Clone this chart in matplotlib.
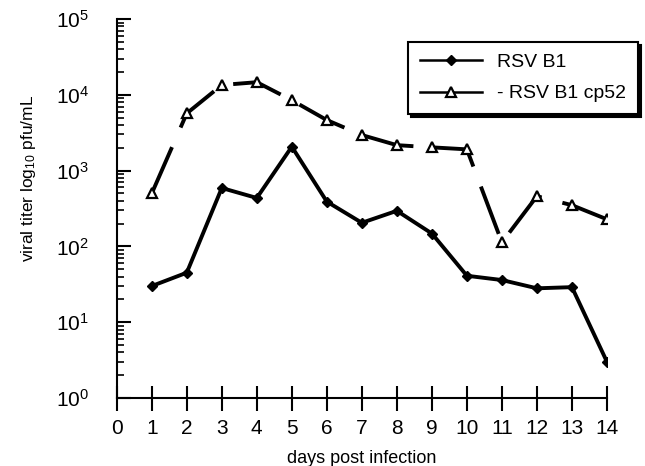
import matplotlib
matplotlib.use("Agg")
import matplotlib.pyplot as plt
from matplotlib.ticker import LogLocator, NullFormatter, FixedLocator

plt.rcParams['font.family'] = ['Liberation Sans', 'DejaVu Sans']
plt.rcParams['mathtext.default'] = 'regular'

days = [1, 2, 3, 4, 5, 6, 7, 8, 9, 10, 11, 12, 13, 14]
rsv_b1 = [30, 45, 590, 436, 2070, 390, 205, 295, 148, 41, 36, 28, 29, 3.0]
rsv_b1_cp52 = [500, 5700, 13500, 14700, 8500, 4650, 2950, 2170, 2030, 1910,
               113, 460, 350, 228]
xticks = list(range(0, 15))
yticks = [1, 10, 100, 1000, 10000, 100000]
ytick_labels = [r'$10^{0}$', r'$10^{1}$', r'$10^{2}$', r'$10^{3}$',
                r'$10^{4}$', r'$10^{5}$']

fig = plt.figure(figsize=(6.45, 4.66), dpi=100)
ax = fig.add_axes([0.181, 0.146, 0.76, 0.813])

ax.plot(days, rsv_b1, color='black', lw=2.8, marker='D', ms=5,
        label='RSV B1')
ax.plot(days, rsv_b1_cp52, color='black', lw=2.8, marker='^', ms=7,
        mfc='white', mec='black', mew=1.6, dashes=(13, 5.5),
        label='- RSV B1 cp52')

ax.set_yscale('log')
ax.set_ylim(1, 1e5)
ax.set_xlim(0, 14)
ax.xaxis.set_major_locator(FixedLocator(xticks))
ax.set_xticklabels([str(t) for t in xticks])
ax.set_yticks(yticks)
ax.set_yticklabels(ytick_labels)
ax.yaxis.set_minor_locator(LogLocator(base=10, subs=range(2, 10)))
ax.yaxis.set_minor_formatter(NullFormatter())

for s in ['top', 'right']:
    ax.spines[s].set_visible(False)
for s in ['left', 'bottom']:
    ax.spines[s].set_linewidth(1.5)

ax.tick_params(axis='x', direction='inout', length=18, width=1.5,
               labelsize=15, pad=6)
ax.tick_params(axis='y', which='major', direction='in', length=10,
               width=1.5, labelsize=15, pad=20)
ax.tick_params(axis='y', which='minor', direction='in', length=5, width=1.2)

ax.set_xlabel('days post infection', fontsize=13, labelpad=9)
ax.set_ylabel(r'viral titer log$_{10}$ pfu/mL', fontsize=12.5)
ax.yaxis.set_label_coords(-0.161, 0.58)

leg = ax.legend(loc='upper left', bbox_to_anchor=(0.6326, 0.91),
                bbox_transform=fig.transFigure,
                fontsize=14, frameon=True, fancybox=False,
                shadow={'color': 'black', 'alpha': 1}, handlelength=3.2,
                handletextpad=0.8, borderpad=0.6, labelspacing=0.7,
                borderaxespad=0)
leg.get_frame().set_edgecolor('black')
leg.get_frame().set_linewidth(1.5)
for h in leg.get_lines():
    h.set_linewidth(1.8)
    h.set_linestyle('-')

fig.savefig('out.png', dpi=100)
